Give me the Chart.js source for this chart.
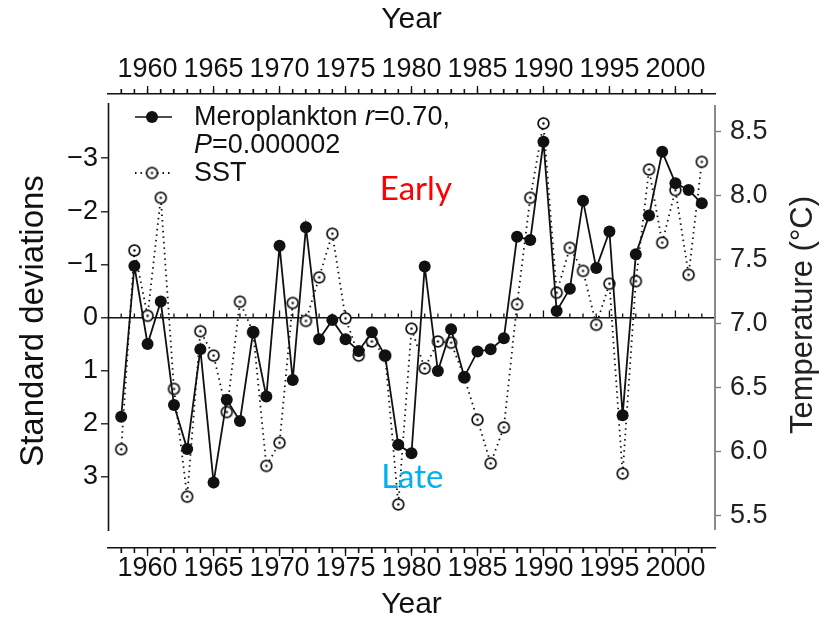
<!DOCTYPE html>
<html>
<head>
<meta charset="utf-8">
<script src="https://cdn.jsdelivr.net/npm/chart.js@4.4.1/dist/chart.umd.min.js"></script>
<style>
  html, body { margin: 0; padding: 0; background: #fff; }
  #wrap { width: 834px; height: 621px; position: relative; }
</style>
</head>
<body>
<div id="wrap"><canvas id="chart"></canvas></div>
<script>
// years on the x axis
const years = [1958, 1959, 1960, 1961, 1962, 1963, 1964, 1965, 1966, 1967,
  1968, 1969, 1970, 1971, 1972, 1973, 1974, 1975, 1976, 1977,
  1978, 1979, 1980, 1981, 1982, 1983, 1984, 1985, 1986, 1987,
  1988, 1989, 1990, 1991, 1992, 1993, 1994, 1995, 1996, 1997,
  1998, 1999, 2000, 2001, 2002];

// meroplankton timing, standard deviations (left axis, reversed)
const meroplankton = [1.87, -0.97, 0.50, -0.30, 1.65, 2.48, 0.60, 3.11, 1.55, 1.95,
  0.27, 1.49, -1.35, 1.18, -1.70, 0.41, 0.05, 0.41, 0.63, 0.28,
  0.72, 2.40, 2.56, -0.96, 1.01, 0.22, 1.12, 0.64, 0.60, 0.39,
  -1.52, -1.46, -3.31, -0.12, -0.54, -2.20, -0.93, -1.62, 1.84, -1.19,
  -1.92, -3.12, -2.53, -2.40, -2.15];

// sea surface temperature, degC (right axis)
const sst = [6.02, 7.57, 7.06, 7.98, 6.49, 5.65, 6.94, 6.75, 6.31, 7.17,
  6.93, 5.89, 6.07, 7.16, 7.02, 7.36, 7.70, 7.04, 6.75, 6.86,
  6.75, 5.59, 6.96, 6.65, 6.86, 6.85, 6.58, 6.25, 5.91, 6.19,
  7.15, 7.98, 8.56, 7.24, 7.59, 7.41, 6.99, 7.31, 5.83, 7.33,
  8.20, 7.63, 8.04, 7.38, 8.26];

const yearLabels = [1960, 1965, 1970, 1975, 1980, 1985, 1990, 1995, 2000];
const sdTicks = [-3, -2, -1, 0, 1, 2, 3];
const tempTicks = [5.5, 6.0, 6.5, 7.0, 7.5, 8.0, 8.5];

const FONT = "'Liberation Sans', Arial, Helvetica, sans-serif";
const INK = '#111';

// open circle with a dot in the middle, used for SST
function ringMarker(r) {
  const c = document.createElement('canvas');
  const s = Math.ceil(r * 2 + 4);
  c.width = s; c.height = s;
  const g = c.getContext('2d');
  g.beginPath();
  g.arc(s / 2, s / 2, r, 0, Math.PI * 2);
  g.fillStyle = '#fff';
  g.fill();
  g.lineWidth = 1.7;
  g.strokeStyle = INK;
  g.stroke();
  g.beginPath();
  g.arc(s / 2, s / 2, 1.2, 0, Math.PI * 2);
  g.fillStyle = INK;
  g.fill();
  return c;
}
const ring = ringMarker(5.4);

function xAxis(pos, h) {
  return {
    type: 'linear',
    position: pos,
    min: 1957,
    max: 2003,
    afterBuildTicks: s => { s.ticks = years.map(v => ({ value: v })); },
    afterFit: s => { s.height = h; },
    grid: { drawOnChartArea: false, tickLength: 5, tickColor: INK, tickWidth: 1.3 },
    border: { display: true, color: INK, width: 1.6 },
    ticks: {
      autoSkip: false, maxRotation: 0, padding: pos === 'top' ? 6 : 2, color: INK,
      font: { family: FONT, size: 27, lineHeight: 1 },
      callback: v => yearLabels.includes(v) ? String(v) : ''
    },
    title: {
      display: true, text: 'Year', color: INK,
      font: { family: FONT, size: 30, lineHeight: 1 },
      padding: pos === 'top' ? { top: 5, bottom: 0 } : { top: 0, bottom: 1 }
    }
  };
}

// extra drawing: longer 5-year ticks, zero line ticks, detached y axis lines
const decor = {
  id: 'decor',
  beforeDatasetsDraw(chart) {
    const { ctx, chartArea: a, scales } = chart;
    const x = scales.x, y = scales.y;
    ctx.save();
    ctx.strokeStyle = INK;
    ctx.lineWidth = 1.3;
    const y0 = y.getPixelForValue(0);
    ctx.beginPath();
    years.forEach(v => {
      const px = x.getPixelForValue(v);
      const major = v % 5 === 0;
      // ticks on top axis, bottom axis and on the zero line
      ctx.moveTo(px, a.top); ctx.lineTo(px, a.top - (major ? 8 : 5));
      ctx.moveTo(px, a.bottom); ctx.lineTo(px, a.bottom + (major ? 8 : 5));
      ctx.moveTo(px, y0); ctx.lineTo(px, y0 - (major ? 7 : 4));
    });
    ctx.stroke();
    // left axis line
    ctx.lineWidth = 1.6;
    ctx.beginPath();
    ctx.moveTo(a.left + 0.5, a.top + 9);
    ctx.lineTo(a.left + 0.5, a.bottom - 17);
    ctx.stroke();
    // right axis line (grey)
    ctx.strokeStyle = '#8a8a8a';
    ctx.lineWidth = 2;
    ctx.beginPath();
    ctx.moveTo(a.right, a.top + 11);
    ctx.lineTo(a.right, a.bottom - 18);
    ctx.stroke();
    ctx.restore();
  },
  afterDraw(chart) {
    const { ctx, chartArea: a, scales } = chart;
    ctx.save();
    // right axis title, reading upwards
    ctx.fillStyle = '#222';
    ctx.font = `31px ${FONT}`;
    ctx.textAlign = 'center';
    ctx.textBaseline = 'middle';
    ctx.translate(803, (a.top + a.bottom) / 2 - 6);
    ctx.rotate(-Math.PI / 2);
    ctx.fillText('Temperature (\u00B0C)', 0, 0);
    ctx.restore();

    // legend
    ctx.save();
    const lx = a.left + 27, tx = a.left + 86;
    ctx.strokeStyle = INK;
    ctx.fillStyle = INK;
    ctx.lineWidth = 1.7;
    let ly = a.top + 23;
    ctx.beginPath(); ctx.moveTo(lx, ly); ctx.lineTo(lx + 37, ly); ctx.stroke();
    ctx.beginPath(); ctx.arc(lx + 17, ly, 6, 0, Math.PI * 2); ctx.fill();
    ctx.setLineDash([1.5, 4]);
    ctx.lineWidth = 1.8;
    const ly3 = a.top + 79;
    ctx.beginPath(); ctx.moveTo(lx, ly3); ctx.lineTo(lx + 37, ly3); ctx.stroke();
    ctx.setLineDash([]);
    ctx.drawImage(ring, lx + 17 - ring.width / 2, ly3 - ring.height / 2);

    ctx.textBaseline = 'alphabetic';
    ctx.textAlign = 'left';
    const up = `27px ${FONT}`, it = `italic 27px ${FONT}`;
    const runs = [
      [[up, 'Meroplankton '], [it, 'r'], [up, '=0.70,']],
      [[it, 'P'], [up, '=0.000002']],
      [[up, 'SST']]
    ];
    const bases = [a.top + 31, a.top + 59, a.top + 87];
    runs.forEach((row, i) => {
      let cx = tx;
      row.forEach(([f, s]) => {
        ctx.font = f;
        ctx.fillText(s, cx, bases[i]);
        cx += ctx.measureText(s).width;
      });
    });

    // Early / Late notes
    const x = scales.x, y = scales.y;
    ctx.font = `33px Lato, 'Open Sans', sans-serif`;
    ctx.fillStyle = '#ff0000';
    ctx.fillText('Early', x.getPixelForValue(1977.6), y.getPixelForValue(-2.21));
    ctx.fillStyle = '#00b0f0';
    ctx.fillText('Late', x.getPixelForValue(1977.7), y.getPixelForValue(3.22));
    ctx.restore();
  }
};

new Chart(document.getElementById('chart'), {
  type: 'line',
  data: {
    datasets: [
      {
        label: 'Meroplankton',
        data: years.map((v, i) => ({ x: v, y: meroplankton[i] })),
        xAxisID: 'x',
        yAxisID: 'y',
        borderColor: INK,
        borderWidth: 1.8,
        pointRadius: 6,
        pointBackgroundColor: INK,
        pointBorderWidth: 0,
        tension: 0
      },
      {
        label: 'SST',
        data: years.map((v, i) => ({ x: v, y: sst[i] })),
        xAxisID: 'x',
        yAxisID: 'y2',
        borderColor: INK,
        borderWidth: 1.8,
        borderDash: [1.5, 4],
        pointStyle: ring,
        pointRadius: 6,
        tension: 0
      }
    ]
  },
  options: {
    responsive: true,
    maintainAspectRatio: false,
    animation: false,
    layout: { padding: 0 },
    plugins: { legend: { display: false }, tooltip: { enabled: false } },
    scales: {
      x: xAxis('bottom', 73),
      x2: xAxis('top', 94),
      y: {
        type: 'linear',
        position: 'left',
        reverse: true,
        min: -4.21,
        max: 4.343,
        afterBuildTicks: s => { s.ticks = sdTicks.map(v => ({ value: v })); },
        afterFit: s => { s.width = 108; },
        grid: {
          drawOnChartArea: true,
          tickLength: 7,
          lineWidth: 1.6,
          tickWidth: 1.3,
          tickColor: INK,
          color: c => (c.tick && c.tick.value === 0) ? INK : 'rgba(0,0,0,0)'
        },
        border: { display: false },
        ticks: {
          padding: 3, color: INK,
          font: { family: FONT, size: 27 },
          callback: v => v < 0 ? '\u2212' + Math.abs(v) : String(v)
        },
        title: {
          display: true, text: 'Standard deviations', color: INK,
          font: { family: FONT, size: 33, lineHeight: 1 },
          padding: { top: 17, bottom: 0 },
          align: 'center'
        }
      },
      y2: {
        type: 'linear',
        position: 'right',
        min: 5.25,
        max: 8.789,
        afterBuildTicks: s => { s.ticks = tempTicks.map(v => ({ value: v })); },
        afterFit: s => { s.width = 119; },
        grid: { drawOnChartArea: false, tickLength: 6, tickColor: '#777', tickWidth: 1.3 },
        border: { display: false },
        ticks: {
          padding: 9, color: '#222',
          font: { family: FONT, size: 27 },
          callback: v => v.toFixed(1)
        }
      }
    }
  },
  plugins: [decor]
});
</script>
</body>
</html>
